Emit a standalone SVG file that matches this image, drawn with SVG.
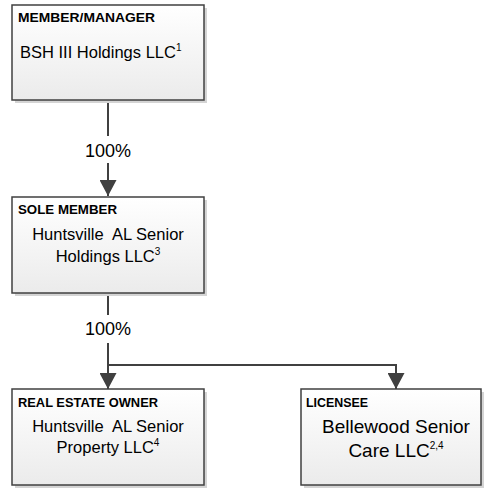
<svg xmlns="http://www.w3.org/2000/svg" width="485" height="489" viewBox="0 0 485 489">
<defs>
<linearGradient id="fillg" x1="0" y1="0" x2="0" y2="1">
<stop offset="0" stop-color="#ffffff"/>
<stop offset="1" stop-color="#ebebeb"/>
</linearGradient>
<marker id="arr" markerWidth="18" markerHeight="17" refX="17" refY="9" orient="auto" markerUnits="userSpaceOnUse" viewBox="0 0 17 18">
<path d="M0,0 L17,9 L0,18 Z" fill="#404040"/>
</marker>
</defs>
<style>
.shadow{fill:#d4d4d4}
.box{fill:url(#fillg);stroke:#404040;stroke-width:1.5}
.hdr{font-family:"Liberation Sans",Arial,sans-serif;font-weight:bold;font-size:12px;fill:#000}
.txt{font-family:"Liberation Sans",Arial,sans-serif;font-size:16.5px;fill:#000;white-space:pre}
.big{font-size:19px}
.sup{font-size:10px}
.lbl{font-family:"Liberation Sans",Arial,sans-serif;font-size:18px;fill:#000}
.conn{fill:none;stroke:#404040;stroke-width:2}
</style>
<g id="connectors">
<line class="conn" x1="108" y1="100" x2="108" y2="136"/>
<text class="lbl" x="108" y="157" text-anchor="middle">100%</text>
<line class="conn" x1="108" y1="163" x2="108" y2="196" marker-end="url(#arr)"/>
<line class="conn" x1="108" y1="293" x2="108" y2="315"/>
<text class="lbl" x="108" y="335" text-anchor="middle">100%</text>
<line class="conn" x1="108" y1="343" x2="108" y2="389" marker-end="url(#arr)"/>
<polyline class="conn" points="108,365 396,365 396,389" marker-end="url(#arr)"/>
</g>
<g id="member-manager">
<rect class="shadow" x="15" y="8" width="192" height="95"/>
<rect class="box" x="12" y="5" width="192" height="95"/>
<text class="hdr" x="18" y="22" textLength="137" lengthAdjust="spacingAndGlyphs">MEMBER/MANAGER</text>
<text class="txt" x="20" y="58">BSH III Holdings LLC<tspan class="sup" dy="-7">1</tspan></text>
</g>
<g id="sole-member">
<rect class="shadow" x="15" y="200" width="192" height="96"/>
<rect class="box" x="12" y="197" width="192" height="96"/>
<text class="hdr" x="18" y="214" textLength="99" lengthAdjust="spacingAndGlyphs">SOLE MEMBER</text>
<text class="txt" x="108" y="240" text-anchor="middle">Huntsville  AL Senior</text>
<text class="txt" x="108" y="262" text-anchor="middle">Holdings LLC<tspan class="sup" dy="-7">3</tspan></text>
</g>
<g id="real-estate-owner">
<rect class="shadow" x="15" y="392" width="192" height="96"/>
<rect class="box" x="12" y="389" width="192" height="96"/>
<text class="hdr" x="18" y="407" textLength="140" lengthAdjust="spacingAndGlyphs">REAL ESTATE OWNER</text>
<text class="txt" x="108" y="432" text-anchor="middle">Huntsville  AL Senior</text>
<text class="txt" x="108" y="453" text-anchor="middle">Property LLC<tspan class="sup" dy="-7">4</tspan></text>
</g>
<g id="licensee">
<rect class="shadow" x="304" y="392" width="180" height="96"/>
<rect class="box" x="301" y="389" width="180" height="96"/>
<text class="hdr" x="306" y="407" textLength="62" lengthAdjust="spacingAndGlyphs">LICENSEE</text>
<text class="txt big" x="396" y="433" text-anchor="middle">Bellewood Senior</text>
<text class="txt big" x="396" y="457" text-anchor="middle">Care LLC<tspan class="sup" font-size="11px" dy="-8">2,4</tspan></text>
</g>
</svg>
